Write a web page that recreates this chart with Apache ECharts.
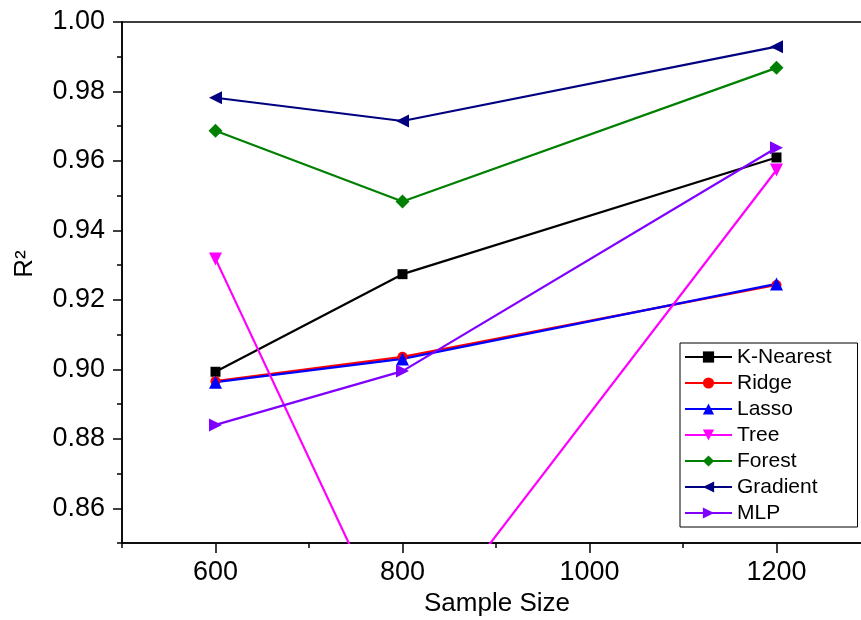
<!DOCTYPE html>
<html>
<head>
<meta charset="utf-8">
<script src="https://cdn.jsdelivr.net/npm/echarts@6/dist/echarts.min.js"></script>
<style>
  html, body { margin: 0; padding: 0; background: #fff; }
  #chart { width: 861px; height: 620px; }
</style>
</head>
<body>
<div id="chart"></div>
<script>
// Sample sizes tested
var sampleSizes = [600, 800, 1200];

// R² per model
var kNearest = [0.8993, 0.9274, 0.9610];
var ridge    = [0.8966, 0.9036, 0.9243];
var lasso    = [0.8963, 0.9030, 0.9246];
var tree     = [0.9318, 0.8170, 0.9574];
var forest   = [0.9687, 0.9483, 0.9868];
var gradient = [0.9782, 0.9715, 0.9929];
var mlp      = [0.8840, 0.8995, 0.9638];

// Tick positions along each axis (every other one carries a label)
var xTickLabels = ['500', '600', '700', '800', '900', '1000', '1100', '1200', '1300'];
var yTickLabels = ['0.85', '0.86', '0.87', '0.88', '0.89', '0.90', '0.91', '0.92',
                   '0.93', '0.94', '0.95', '0.96', '0.97', '0.98', '0.99', '1.00'];

var FONT = '"Liberation Sans", Arial, sans-serif';

var models = [
  { name: 'K-Nearest', values: kNearest, color: '#000000', symbol: 'rect',     size: 10, rotate: 0 },
  { name: 'Ridge',     values: ridge,    color: '#ff0000', symbol: 'circle',   size: 10, rotate: 0 },
  { name: 'Lasso',     values: lasso,    color: '#0000ff', symbol: 'triangle', size: 13, rotate: 0 },
  { name: 'Tree',      values: tree,     color: '#ff00ff', symbol: 'triangle', size: 13, rotate: 180 },
  { name: 'Forest',    values: forest,   color: '#008000', symbol: 'diamond',  size: 14, rotate: 0 },
  { name: 'Gradient',  values: gradient, color: '#000080', symbol: 'triangle', size: 13, rotate: 90 },
  { name: 'MLP',       values: mlp,      color: '#7f00ff', symbol: 'triangle', size: 13, rotate: -90 }
];

function pairUp(values) {
  return sampleSizes.map(function (x, i) { return [x, values[i]]; });
}

var isMajor = function (index) { return index % 2 === 1; };

var chart = echarts.init(document.getElementById('chart'), null, { renderer: 'canvas' });

chart.setOption({
  animation: false,
  backgroundColor: '#ffffff',
  grid: {
    left: 122, top: 22, width: 748, height: 521,
    outerBoundsMode: 'none', containLabel: false,
    show: true, borderColor: '#000', borderWidth: 1.5, backgroundColor: 'transparent'
  },
  xAxis: [
    {
      type: 'value', min: 500, max: 1300, interval: 100,
      axisLine: { show: true, lineStyle: { color: '#000', width: 1.5 } },
      axisTick: { show: true, inside: false, length: 5, lineStyle: { color: '#000', width: 1.5 } },
      axisLabel: { show: false },
      splitLine: { show: false }
    },
    {
      type: 'category', data: xTickLabels, boundaryGap: false, position: 'bottom',
      axisLine: { show: false },
      axisTick: { show: true, interval: isMajor, length: 10, lineStyle: { color: '#000', width: 1.5 } },
      axisLabel: { interval: isMajor, margin: 16, fontSize: 27, fontFamily: FONT, color: '#000' },
      splitLine: { show: false }
    }
  ],
  yAxis: [
    {
      type: 'value', min: 0.85, max: 1.0, interval: 0.01,
      axisLine: { show: true, lineStyle: { color: '#000', width: 1.5 } },
      axisTick: { show: true, inside: false, length: 5, lineStyle: { color: '#000', width: 1.5 } },
      axisLabel: { show: false },
      splitLine: { show: false }
    },
    {
      type: 'category', data: yTickLabels, boundaryGap: false, position: 'left',
      axisLine: { show: false },
      axisTick: { show: true, interval: isMajor, length: 9, lineStyle: { color: '#000', width: 1.5 } },
      axisLabel: { interval: isMajor, margin: 17, fontSize: 27, fontFamily: FONT, color: '#000' },
      splitLine: { show: false }
    }
  ],
  legend: {
    orient: 'vertical',
    left: 680, top: 343,
    data: models.map(function (m) { return m.name; }),
    backgroundColor: '#fff',
    borderColor: '#000', borderWidth: 1, borderRadius: 0,
    padding: [3, 26, 3, 4],
    itemWidth: 47, itemHeight: 14, itemGap: 4,
    textStyle: { fontSize: 21, fontFamily: FONT, color: '#000', lineHeight: 22 }
  },
  graphic: [
    {
      type: 'text', x: 497, y: 604,
      style: { text: 'Sample Size', font: '26px ' + FONT, fill: '#000',
               textAlign: 'center', textVerticalAlign: 'middle' }
    },
    {
      type: 'text', x: 25, y: 264, rotation: Math.PI / 2,
      style: { text: 'R²', font: '26px ' + FONT, fill: '#000',
               textAlign: 'center', textVerticalAlign: 'middle' }
    }
  ],
  series: models.map(function (m) {
    return {
      name: m.name,
      type: 'line',
      xAxisIndex: 0, yAxisIndex: 0,
      data: pairUp(m.values),
      symbol: m.symbol,
      symbolSize: m.size,
      symbolRotate: m.rotate,
      showAllSymbol: true,
      clip: true,
      lineStyle: { color: m.color, width: 2.2 },
      itemStyle: { color: m.color, borderWidth: 0 },
      emphasis: { disabled: true }
    };
  })
});
</script>
</body>
</html>
